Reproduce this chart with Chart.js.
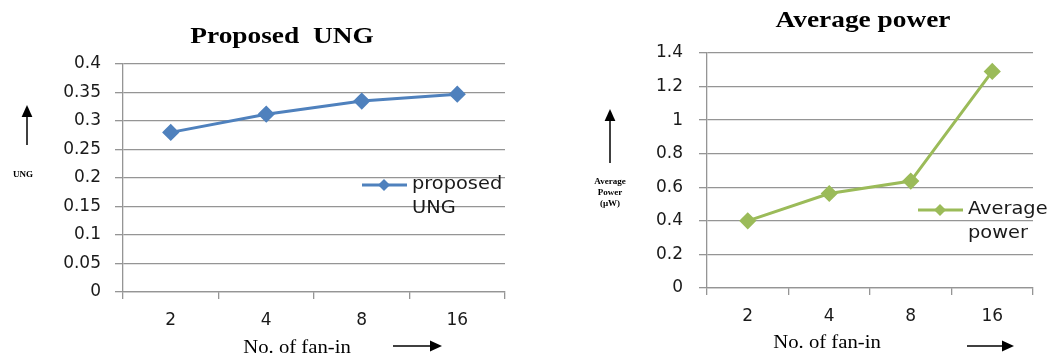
<!DOCTYPE html>
<html>
<head>
<meta charset="utf-8">
<script src="https://cdn.jsdelivr.net/npm/chart.js@4.4.1/dist/chart.umd.min.js"></script>
<style>
  body { margin: 0; background: #fff; width: 1047px; height: 356px; position: relative; overflow: hidden; }
  .box { position: absolute; top: 0; height: 356px; }
</style>
</head>
<body>
<div class="box" style="left:0;width:520px"><canvas id="ung"></canvas></div>
<div class="box" style="left:520px;width:527px"><canvas id="power"></canvas></div>
<script>
// data
const fanIn = ['2', '4', '8', '16'];
const ungValues = [0.28, 0.312, 0.335, 0.347];
const powerValues = [0.40, 0.563, 0.637, 1.29];
const ungRange = [0, 0.4, 0.05];
const powerRange = [0, 1.4, 0.2];

const GRID = '#959595';
const SANS = '"DejaVu Sans"';
const SERIF = '"Liberation Serif"';

function arrow(ctx, x1, y1, x2, y2, head) {
  const a = Math.atan2(y2 - y1, x2 - x1);
  ctx.beginPath();
  ctx.moveTo(x1, y1);
  ctx.lineTo(x2 - Math.cos(a) * head, y2 - Math.sin(a) * head);
  ctx.stroke();
  ctx.beginPath();
  ctx.moveTo(x2, y2);
  ctx.lineTo(x2 - Math.cos(a) * head - Math.sin(a) * head * 0.45, y2 - Math.sin(a) * head + Math.cos(a) * head * 0.45);
  ctx.lineTo(x2 - Math.cos(a) * head + Math.sin(a) * head * 0.45, y2 - Math.sin(a) * head - Math.cos(a) * head * 0.45);
  ctx.closePath();
  ctx.fill();
}

// text a little wider than the font, as in the original figure
function wideText(ctx, t, x, y, sx) {
  ctx.save();
  ctx.translate(x, y);
  ctx.scale(sx, 1);
  ctx.fillText(t, 0, 0);
  ctx.restore();
}

// titles, arrows, side note and the in-plot legend
const decor = {
  id: 'decor',
  afterDraw(chart, args, o) {
    const ctx = chart.ctx;
    ctx.save();
    ctx.fillStyle = '#000';
    ctx.strokeStyle = '#000';
    ctx.textAlign = 'center';
    ctx.textBaseline = 'middle';

    ctx.font = 'bold 24px ' + SERIF;
    wideText(ctx, o.title, o.titleX, o.titleY, 1.14);

    ctx.font = '18px ' + SERIF;
    wideText(ctx, o.xTitle, o.xTitleX, o.xTitleY, 1.15);

    ctx.lineWidth = 1.5;
    arrow(ctx, o.xArrow[0], o.xArrow[2], o.xArrow[1], o.xArrow[2], 12);
    arrow(ctx, o.yArrow[0], o.yArrow[2], o.yArrow[0], o.yArrow[1], 12);

    ctx.font = 'bold 9px ' + SERIF;
    o.yNote.forEach((t, i) => ctx.fillText(t, o.yNoteX, o.yNoteY + i * 11));

    // legend
    const ds = chart.data.datasets[0];
    const lg = o.legend;
    ctx.strokeStyle = ds.borderColor;
    ctx.fillStyle = ds.borderColor;
    ctx.lineWidth = 3;
    ctx.beginPath();
    ctx.moveTo(lg.x, lg.y);
    ctx.lineTo(lg.x + 45, lg.y);
    ctx.stroke();
    const cx = lg.x + 22, r = 6;
    ctx.beginPath();
    ctx.moveTo(cx, lg.y - r); ctx.lineTo(cx + r, lg.y); ctx.lineTo(cx, lg.y + r); ctx.lineTo(cx - r, lg.y);
    ctx.closePath();
    ctx.fill();
    ctx.fillStyle = '#1a1a1a';
    ctx.textAlign = 'left';
    ctx.font = '17px ' + SANS;
    ds.label.split(' ').forEach((t, i) => wideText(ctx, t, lg.x + 50, lg.y + i * 24, 1.14));
    ctx.restore();
  }
};

function makeChart(id, label, values, range, color, box, deco) {
  return new Chart(document.getElementById(id), {
    type: 'line',
    data: {
      labels: fanIn,
      datasets: [{
        label: label,
        data: values,
        borderColor: color,
        backgroundColor: color,
        borderWidth: 3,
        pointStyle: 'rectRot',
        pointRadius: 6.5,
        pointHoverRadius: 6.5,
        fill: false,
        tension: 0
      }]
    },
    options: {
      responsive: true,
      maintainAspectRatio: false,
      animation: false,
      layout: { padding: { left: 0, top: box.top, right: box.right, bottom: 0 } },
      plugins: {
        legend: { display: false },
        tooltip: { enabled: false },
        decor: deco
      },
      scales: {
        x: {
          offset: true,
          grid: { offset: true, drawOnChartArea: false, drawTicks: true, tickLength: 7, color: GRID, lineWidth: 1.3 },
          border: { color: GRID, width: 1.3 },
          ticks: { color: '#1a1a1a', padding: box.xPad, font: { family: SANS, size: 17 } },
          afterFit: s => { s.height = box.xHeight; }
        },
        y: {
          min: range[0],
          max: range[1],
          grid: { color: GRID, tickLength: 8, lineWidth: 1.3 },
          border: { color: GRID, width: 1.3 },
          ticks: {
            stepSize: range[2],
            color: '#1a1a1a',
            padding: box.yPad,
            font: { family: SANS, size: 17 },
            callback: v => String(Number(v.toFixed(2)))
          },
          afterFit: s => { s.width = box.yWidth; }
        }
      }
    },
    plugins: [decor]
  });
}

makeChart('ung', 'proposed UNG', ungValues, ungRange, '#4f81bd',
  { top: 64, right: 15, yWidth: 123, xHeight: 64, xPad: 11, yPad: 14 },
  {
    title: 'Proposed  UNG', titleX: 282, titleY: 37,
    xTitle: 'No. of fan-in', xTitleX: 297, xTitleY: 348,
    xArrow: [393, 442, 346],
    yArrow: [27, 105, 145],
    yNote: ['UNG'], yNoteX: 23, yNoteY: 175,
    legend: { x: 362, y: 185 }
  });

makeChart('power', 'Average power', powerValues, powerRange, '#9bbb59',
  { top: 53, right: 14, yWidth: 187, xHeight: 68, xPad: 11, yPad: 16 },
  {
    title: 'Average power', titleX: 343, titleY: 21,
    xTitle: 'No. of fan-in', xTitleX: 307, xTitleY: 343,
    xArrow: [447, 494, 346],
    yArrow: [90, 109, 163],
    yNote: ['Average', 'Power', '(\u00b5W)'], yNoteX: 90, yNoteY: 182,
    legend: { x: 398, y: 210 }
  });
</script>
</body>
</html>
